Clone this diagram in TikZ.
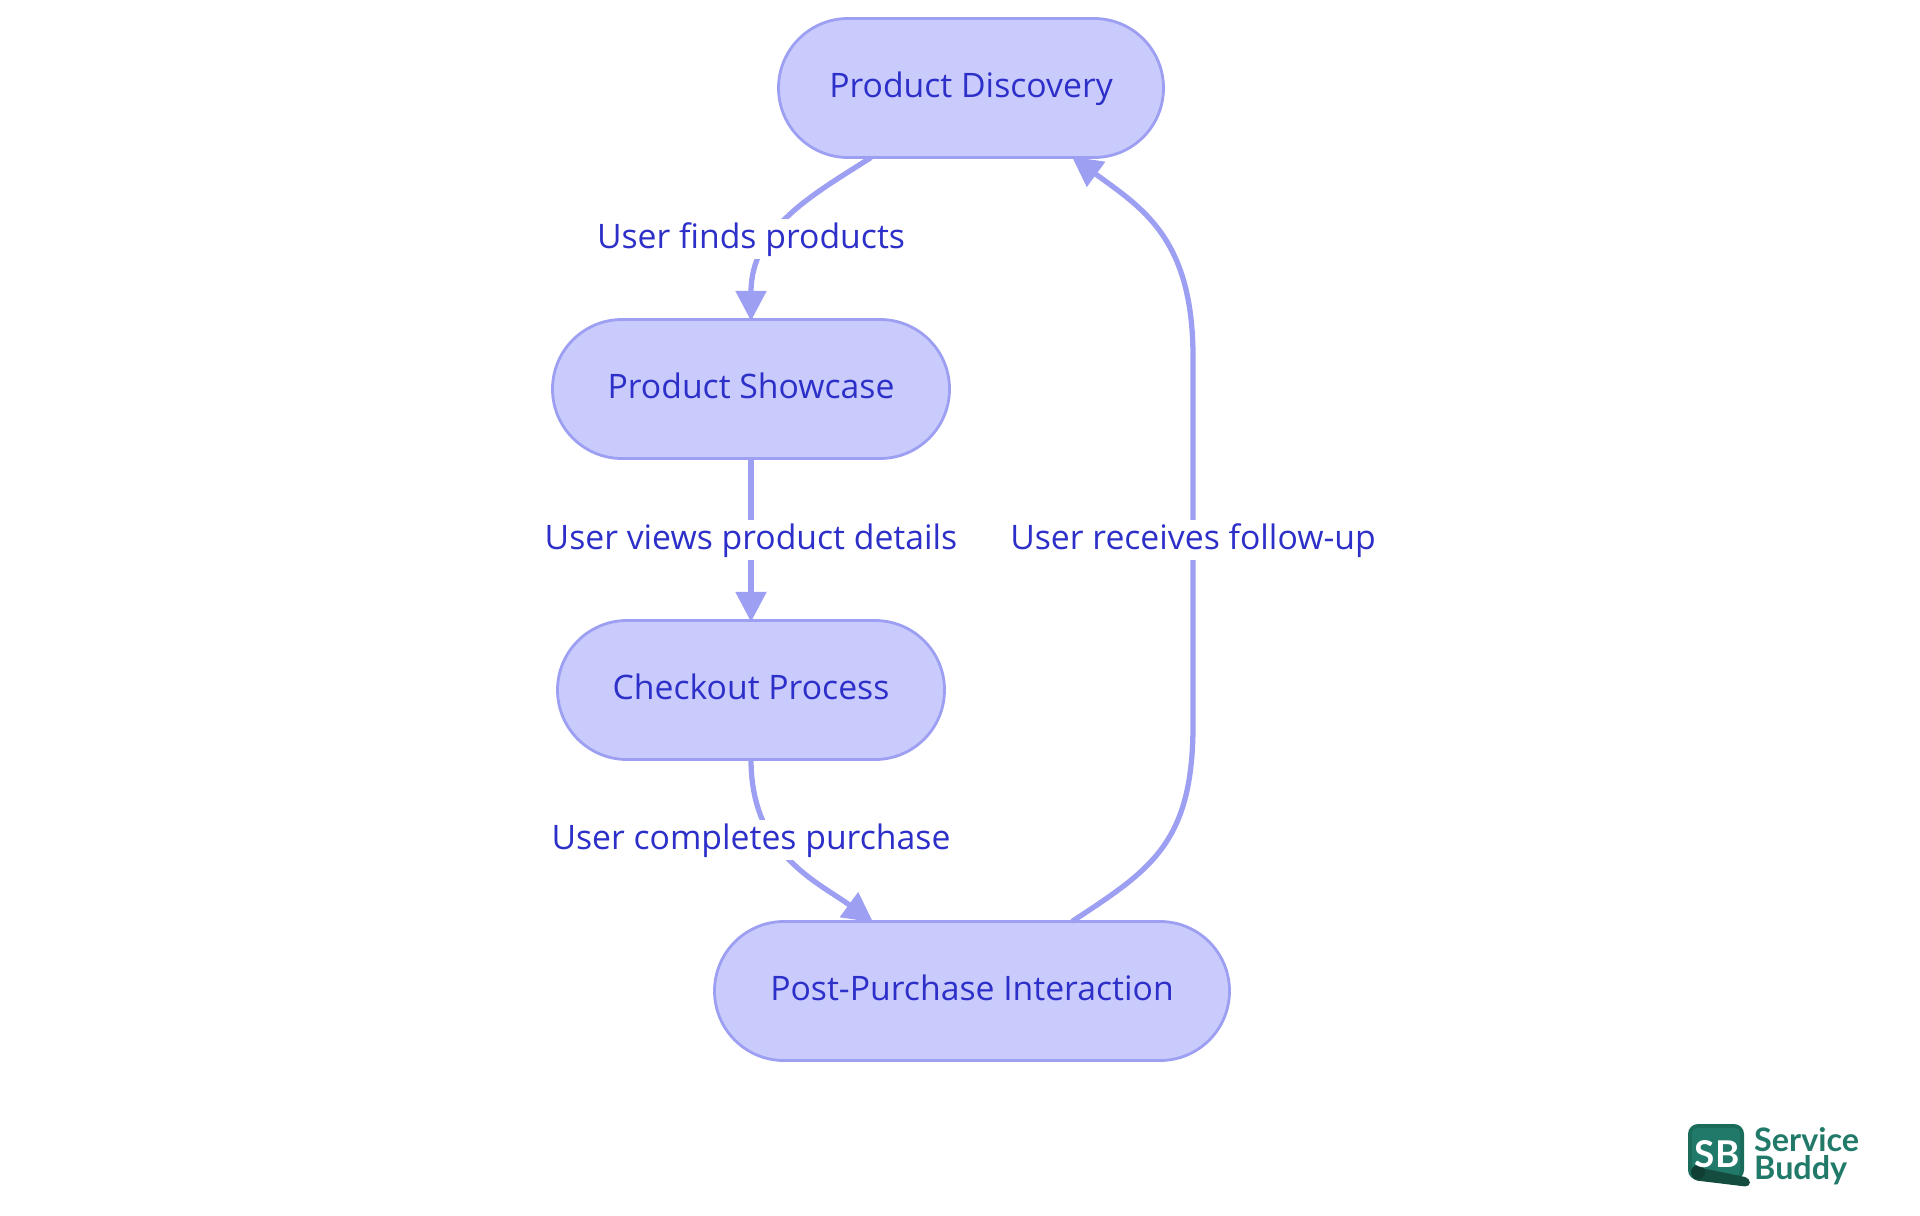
\documentclass[tikz,border=0pt]{standalone}
\usepackage{fontspec}
\setmainfont{Open Sans}
\newfontfamily\logofont{Lato}
\usetikzlibrary{shapes.misc, arrows.meta, calc}
\definecolor{boxfill}{HTML}{CACBFD}
\definecolor{boxline}{HTML}{9D9FF2}
\definecolor{boxtext}{HTML}{2D2FC9}
\definecolor{sbgreen}{HTML}{217A69}
\definecolor{sbedge}{HTML}{1B6B5B}
\definecolor{sbdark}{HTML}{144D40}

\begin{document}
\begin{tikzpicture}[
    stage/.style={rounded rectangle, draw=boxline, fill=boxfill, line width=0.8pt, text=boxtext, minimum height=1.39cm, inner sep=0pt, outer sep=0pt, text height=2.6mm, text depth=0.8mm, font=\fontsize{9.6}{11}\selectfont},
    flow/.style={draw=boxline, line width=1.5pt, shorten >=-0.4pt, -{Triangle[length=3mm, width=3mm, fill=boxline]}},
    flowlabel/.style={fill=white, text=boxtext, inner sep=0pt, text height=2.6mm, text depth=0.8mm, minimum height=0.4cm, font=\fontsize{9.6}{11}\selectfont}]
    \useasboundingbox (0,0) rectangle (19.2,-12.15);
    \node[stage, minimum width=3.85cm] (discovery) at (9.71,-0.88) {Product Discovery};
    \node[stage, minimum width=3.97cm] (showcase) at (7.51,-3.89) {Product Showcase};
    \node[stage, minimum width=3.87cm] (checkout) at (7.51,-6.9) {Checkout Process};
    \node[stage, minimum width=5.15cm] (interaction) at (9.72,-9.91) {Post-Purchase Interaction};
    \draw[flow] ([xshift=-1cm]discovery.south) .. controls (8.14,-1.94) and (7.51,-2.28) .. (showcase.north);
    \draw[flow] (showcase.south) -- (checkout.north);
    \draw[flow] (checkout.south) .. controls (7.51,-8.54) and (8.18,-8.82) .. ([xshift=-1cm]interaction.north);
    \draw[flow] ([xshift=1cm]interaction.north) .. controls (11.5,-8.7) and (11.93,-8.44) .. (11.93,-7.25) -- (11.93,-3.57) .. controls (11.93,-2.38) and (11.42,-2.08) .. ([xshift=1.02cm]discovery.south);
    \node[flowlabel] (found) at (7.51,-2.39) {User finds products};
    \node[flowlabel] (viewed) at (7.51,-5.4) {User views product details};
    \node[flowlabel] (bought) at (7.51,-8.4) {User completes purchase};
    \node[flowlabel] (followup) at (11.93,-5.4) {User receives follow-up};
    % logo
    \fill[sbedge, rounded corners=1mm] (16.88,-11.24) rectangle (17.44,-11.8);
    \fill[sbgreen, rounded corners=0.5mm] (16.92,-11.28) rectangle (17.4,-11.76);
    \fill[sbdark, rounded corners=0.5mm] (16.92,-11.66) -- (17.5,-11.78) -- (17.5,-11.87) -- (16.92,-11.8) -- cycle;
    \fill[sbdark!80!black] (16.98,-11.72) circle (0.07);
    \node[text=white, inner sep=0pt, font=\logofont\bfseries\fontsize{10.5}{10}\selectfont] (sb) at (17.17,-11.545) {SB};
    \node[text=sbgreen, inner sep=0pt, anchor=west, align=left, font=\logofont\bfseries\fontsize{9.2}{8}\selectfont] (brand) at (17.535,-11.56) {Service\\Buddy};
\end{tikzpicture}
\end{document}
